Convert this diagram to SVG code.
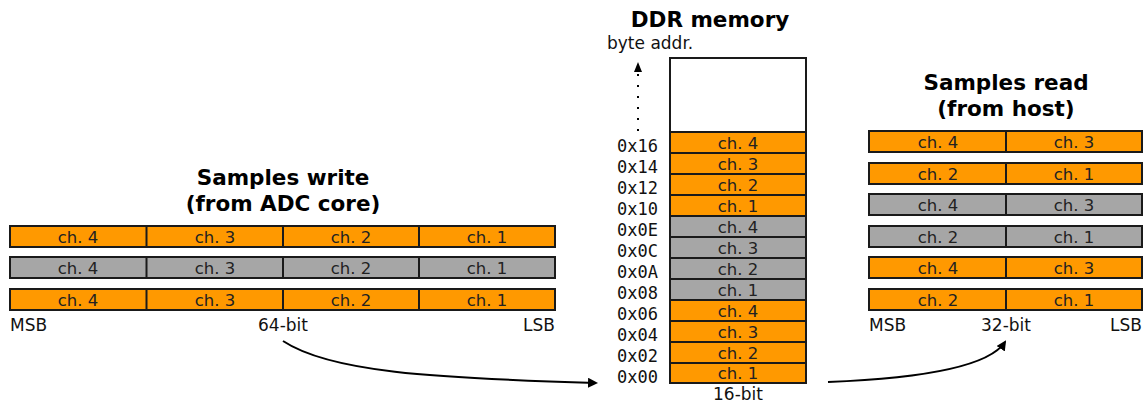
<svg xmlns="http://www.w3.org/2000/svg" width="1148" height="405" viewBox="0 0 1148 405">
<style>
.o{fill:#FF9900;stroke:#1a1a1a;stroke-width:2}
.g{fill:#A6A6A6;stroke:#1a1a1a;stroke-width:2}
.c{font-family:"DejaVu Sans",Verdana,sans-serif;font-size:16.5px;fill:#222;text-anchor:middle}
.t{font-family:"DejaVu Sans",Verdana,sans-serif;font-size:21.5px;font-weight:bold;fill:#000;text-anchor:middle}
.l{font-family:"DejaVu Sans",Verdana,sans-serif;font-size:17px;fill:#111}
.a{font-family:"DejaVu Sans Mono",monospace;font-size:17px;fill:#111;text-anchor:end}
.conn{fill:none;stroke:#000;stroke-width:2}
</style>
<defs>
<marker id="ah" markerWidth="10" markerHeight="10" refX="8" refY="5" orient="auto" markerUnits="userSpaceOnUse">
<path d="M0,0 L10,5 L0,10 z" fill="#000"/>
</marker>
</defs>

<g id="write-title">
<text class="t" x="283" y="185">Samples write</text>
<text class="t" x="283" y="211">(from ADC core)</text>
</g>
<g id="write-row1">
<rect class="o" x="10" y="226" width="545" height="21"/>
<line x1="146.5" y1="226" x2="146.5" y2="247" stroke="#1a1a1a" stroke-width="2"/>
<line x1="283" y1="226" x2="283" y2="247" stroke="#1a1a1a" stroke-width="2"/>
<line x1="419" y1="226" x2="419" y2="247" stroke="#1a1a1a" stroke-width="2"/>
<text class="c" x="78" y="242.5">ch. 4</text><text class="c" x="215" y="242.5">ch. 3</text><text class="c" x="351" y="242.5">ch. 2</text><text class="c" x="487" y="242.5">ch. 1</text>
</g>
<g id="write-row2">
<rect class="g" x="10" y="257" width="545" height="21"/>
<line x1="146.5" y1="257" x2="146.5" y2="278" stroke="#1a1a1a" stroke-width="2"/>
<line x1="283" y1="257" x2="283" y2="278" stroke="#1a1a1a" stroke-width="2"/>
<line x1="419" y1="257" x2="419" y2="278" stroke="#1a1a1a" stroke-width="2"/>
<text class="c" x="78" y="273.5">ch. 4</text><text class="c" x="215" y="273.5">ch. 3</text><text class="c" x="351" y="273.5">ch. 2</text><text class="c" x="487" y="273.5">ch. 1</text>
</g>
<g id="write-row3">
<rect class="o" x="10" y="289" width="545" height="21"/>
<line x1="146.5" y1="289" x2="146.5" y2="310" stroke="#1a1a1a" stroke-width="2"/>
<line x1="283" y1="289" x2="283" y2="310" stroke="#1a1a1a" stroke-width="2"/>
<line x1="419" y1="289" x2="419" y2="310" stroke="#1a1a1a" stroke-width="2"/>
<text class="c" x="78" y="305.5">ch. 4</text><text class="c" x="215" y="305.5">ch. 3</text><text class="c" x="351" y="305.5">ch. 2</text><text class="c" x="487" y="305.5">ch. 1</text>
</g>
<g id="write-labels">
<text class="l" x="10" y="331">MSB</text>
<text class="l" x="283" y="331" text-anchor="middle">64-bit</text>
<text class="l" x="555" y="331" text-anchor="end">LSB</text>
</g>

<g id="ddr-title">
<text class="t" x="710" y="27">DDR memory</text>
<text class="l" x="607" y="49">byte addr.</text>
</g>
<g id="ddr-memory">
<rect x="670" y="58" width="136" height="74" fill="#fff" stroke="#1a1a1a" stroke-width="2"/>
<rect class="o" x="670" y="132" width="136" height="21"/><text class="c" x="738" y="148.5">ch. 4</text>
<rect class="o" x="670" y="153" width="136" height="21"/><text class="c" x="738" y="169.5">ch. 3</text>
<rect class="o" x="670" y="174" width="136" height="21"/><text class="c" x="738" y="190.5">ch. 2</text>
<rect class="o" x="670" y="195" width="136" height="21"/><text class="c" x="738" y="211.5">ch. 1</text>
<rect class="g" x="670" y="216" width="136" height="21"/><text class="c" x="738" y="232.5">ch. 4</text>
<rect class="g" x="670" y="237" width="136" height="21"/><text class="c" x="738" y="253.5">ch. 3</text>
<rect class="g" x="670" y="258" width="136" height="21"/><text class="c" x="738" y="274.5">ch. 2</text>
<rect class="g" x="670" y="279" width="136" height="21"/><text class="c" x="738" y="295.5">ch. 1</text>
<rect class="o" x="670" y="300" width="136" height="21"/><text class="c" x="738" y="316.5">ch. 4</text>
<rect class="o" x="670" y="321" width="136" height="21"/><text class="c" x="738" y="337.5">ch. 3</text>
<rect class="o" x="670" y="342" width="136" height="21"/><text class="c" x="738" y="358.5">ch. 2</text>
<rect class="o" x="670" y="363" width="136" height="20"/><text class="c" x="738" y="379">ch. 1</text>
<text class="l" x="738" y="400" text-anchor="middle">16-bit</text>
</g>
<g id="ddr-addresses">
<text class="a" x="658" y="152">0x16</text>
<text class="a" x="658" y="173">0x14</text>
<text class="a" x="658" y="194">0x12</text>
<text class="a" x="658" y="215">0x10</text>
<text class="a" x="658" y="236">0x0E</text>
<text class="a" x="658" y="257">0x0C</text>
<text class="a" x="658" y="278">0x0A</text>
<text class="a" x="658" y="299">0x08</text>
<text class="a" x="658" y="320">0x06</text>
<text class="a" x="658" y="341">0x04</text>
<text class="a" x="658" y="362">0x02</text>
<text class="a" x="658" y="383">0x00</text>
</g>

<g id="read-title">
<text class="t" x="1006" y="90">Samples read</text>
<text class="t" x="1006" y="116">(from host)</text>
</g>
<g id="read-rows">
<rect class="o" x="869" y="131" width="273" height="21"/><line x1="1006" y1="131" x2="1006" y2="152" stroke="#1a1a1a" stroke-width="2"/>
<text class="c" x="938" y="147.5">ch. 4</text><text class="c" x="1074" y="147.5">ch. 3</text>
<rect class="o" x="869" y="163" width="273" height="21"/><line x1="1006" y1="163" x2="1006" y2="184" stroke="#1a1a1a" stroke-width="2"/>
<text class="c" x="938" y="179.5">ch. 2</text><text class="c" x="1074" y="179.5">ch. 1</text>
<rect class="g" x="869" y="194" width="273" height="21"/><line x1="1006" y1="194" x2="1006" y2="215" stroke="#1a1a1a" stroke-width="2"/>
<text class="c" x="938" y="210.5">ch. 4</text><text class="c" x="1074" y="210.5">ch. 3</text>
<rect class="g" x="869" y="226" width="273" height="21"/><line x1="1006" y1="226" x2="1006" y2="247" stroke="#1a1a1a" stroke-width="2"/>
<text class="c" x="938" y="242.5">ch. 2</text><text class="c" x="1074" y="242.5">ch. 1</text>
<rect class="o" x="869" y="257" width="273" height="21"/><line x1="1006" y1="257" x2="1006" y2="278" stroke="#1a1a1a" stroke-width="2"/>
<text class="c" x="938" y="273.5">ch. 4</text><text class="c" x="1074" y="273.5">ch. 3</text>
<rect class="o" x="869" y="289" width="273" height="21"/><line x1="1006" y1="289" x2="1006" y2="310" stroke="#1a1a1a" stroke-width="2"/>
<text class="c" x="938" y="305.5">ch. 2</text><text class="c" x="1074" y="305.5">ch. 1</text>
</g>
<g id="read-labels">
<text class="l" x="869" y="331">MSB</text>
<text class="l" x="1006" y="331" text-anchor="middle">32-bit</text>
<text class="l" x="1142" y="331" text-anchor="end">LSB</text>
</g>

<g id="connectors">
<line x1="638" y1="131" x2="638" y2="70" stroke="#000" stroke-width="2" stroke-dasharray="2,9"/>
<path d="M634,72 L638,62 L642,72 z" fill="#000"/>
<path class="conn" d="M283,341 C330,372 430,378 596,383" marker-end="url(#ah)"/>
<path class="conn" d="M828,382 C930,378 990,365 1005,342" marker-end="url(#ah)"/>
</g>
</svg>
